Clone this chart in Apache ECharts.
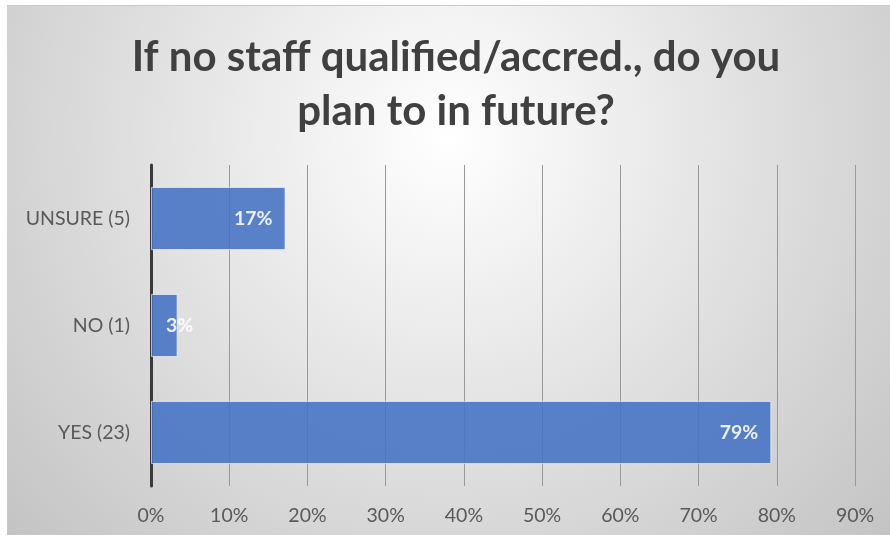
<!DOCTYPE html>
<html>
<head>
<meta charset="utf-8">
<style>
  html, body { margin: 0; padding: 0; background: #ffffff; }
  #chart { width: 890px; height: 540px; }
</style>
<script src="https://cdn.jsdelivr.net/npm/echarts@6/dist/echarts.min.js"></script>
</head>
<body>
<div id="chart"></div>
<script>
// Survey answers (bottom to top) and their share of respondents, in percent
const categories = ['YES (23)', 'NO (1)', 'UNSURE (5)'];
const shares = [79.3, 3.4, 17.2];
const labelPositions = ['insideRight', 'insideLeft', 'insideRight'];

const titleText = 'If no staff qualified/accred., do you\nplan to in future?';
const fontStack = 'Lato, "Open Sans", "Noto Sans", sans-serif';

const chart = echarts.init(document.getElementById('chart'), null, { renderer: 'canvas' });

chart.setOption({
  animation: false,
  graphic: [{
    type: 'rect',
    z: -10,
    silent: true,
    shape: { x: 7, y: 5, width: 883, height: 530 },
    style: {
      fill: new echarts.graphic.RadialGradient(0.5, 0.25, 1.15, [
        { offset: 0, color: '#ffffff' },
        { offset: 1, color: '#c2c2c2' }
      ]),
      stroke: null
    }
  }, {
    type: 'line',
    z: -9,
    silent: true,
    shape: { x1: 7, y1: 5.5, x2: 890, y2: 5.5 },
    style: { stroke: '#c8c8c8', lineWidth: 1 }
  }],
  title: {
    text: titleText,
    left: 451,
    textAlign: 'center',
    top: 25,
    textStyle: {
      fontFamily: fontStack,
      fontSize: 42,
      fontWeight: 'bold',
      color: '#404040',
      lineHeight: 54
    }
  },
  grid: {
    left: 151,
    right: 35,
    top: 165,
    bottom: 54,
    containLabel: false
  },
  xAxis: {
    type: 'value',
    min: 0,
    max: 90,
    interval: 10,
    axisLine: { show: false },
    axisTick: { show: false },
    splitLine: { show: true, lineStyle: { color: '#999999', width: 1 } },
    axisLabel: {
      formatter: '{value}%',
      color: '#595959',
      fontFamily: fontStack,
      fontSize: 19.5,
      margin: 20
    }
  },
  yAxis: {
    type: 'category',
    data: categories,
    axisLine: { show: true, lineStyle: { color: '#3a3a3a', width: 3 } },
    axisTick: { show: false },
    splitLine: { show: false },
    axisLabel: {
      color: '#595959',
      fontFamily: fontStack,
      fontSize: 19.5,
      margin: 21
    }
  },
  series: [{
    type: 'bar',
    barCategoryGap: '41%',
    data: shares.map((v, i) => ({
      value: v,
      label: { position: labelPositions[i], distance: labelPositions[i] === 'insideLeft' ? 15 : 13 }
    })),
    itemStyle: {
      color: '#4472C4',
      opacity: 0.88,
      borderColor: 'rgba(255,255,255,0.7)',
      borderWidth: 1
    },
    label: {
      show: true,
      formatter: p => Math.round(p.value) + '%',
      color: '#ffffff',
      fontFamily: fontStack,
      fontSize: 19.5,
      fontWeight: 'bold'
    }
  }]
});
</script>
</body>
</html>
